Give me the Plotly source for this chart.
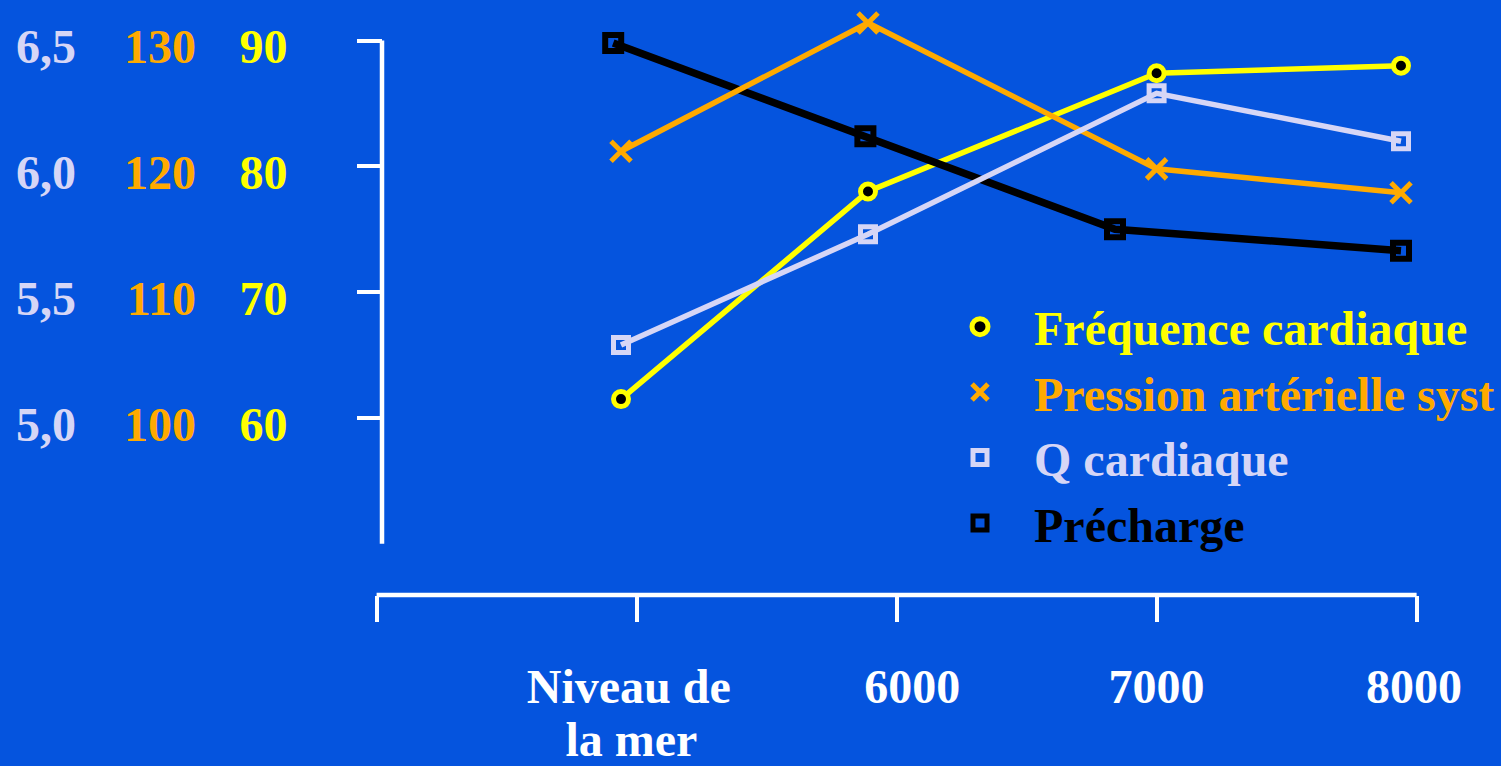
import plotly.graph_objects as go

# Altitude stations (category positions along the x axis)
station_ticks = [-1, 0, 1, 2, 3]
station_labels = ["Niveau de", "6000", "7000", "8000"]
station_label_pos = [-0.03, 1.06, 2.0, 2.99]
station_label_line2 = ["la mer"]
station_label_line2_pos = [-0.02]

# Where each series was plotted along the altitude axis
x_fc = [-0.06, 0.89, 2.0, 2.94]
x_pas = [-0.06, 0.89, 2.0, 2.94]
x_q = [-0.06, 0.89, 2.0, 2.94]
x_pre = [-0.09, 0.88, 1.84, 2.94]

# Series values
freq_cardiaque = [61.5, 78.0, 87.4, 88.0]          # battements/min
pression_syst = [121.2, 131.4, 119.8, 117.9]       # mmHg
q_cardiaque = [5.29, 5.73, 6.29, 6.10]             # L/min
precharge = [89.8, 82.4, 75.0, 73.3]               # unités relatives

# Tick values / labels of the three scales
fc_ticks = [60, 70, 80, 90]
pas_ticks = [100, 110, 120, 130]
q_ticks = [5.0, 5.5, 6.0, 6.5]
q_ticktext = ["5,0", "5,5", "6,0", "6,5"]

W, H = 1501, 766
BG = "#0554DE"
WHITE = "#FFFFFF"
YELLOW = "#FFFF00"
ORANGE = "#FFAA00"
LAVENDER = "#D6D6F6"
BLACK = "#000000"
SERIF = "Liberation Serif, Times New Roman, serif"

# Pixel geometry of the axes frame
yaxis_px = 382
xaxis_py = 595


def px_to_idx(px):
    return 1 + (px - 896.6) / 260.0


# Linear mapping between the scales (heart-rate scale as reference)
fc_lo, fc_hi = 75 - (H - 229.25) / 12.582, 75 + 229.25 / 12.582
pas_range = [fc_lo + 40, fc_hi + 40]
q_range = [5.0 + (fc_lo - 60) * 0.05, 5.0 + (fc_hi - 60) * 0.05]
x_range = [px_to_idx(0), px_to_idx(W)]

fig = go.Figure()

fig.add_trace(go.Scatter(
    x=x_q, y=q_cardiaque, yaxis="y3", mode="lines+markers",
    line=dict(color=LAVENDER, width=5.5),
    marker=dict(symbol="square-open", size=15, color=LAVENDER, line=dict(width=5, color=LAVENDER)),
    showlegend=False, cliponaxis=False))
fig.add_trace(go.Scatter(
    x=x_pas, y=pression_syst, yaxis="y2", mode="lines+markers",
    line=dict(color=ORANGE, width=5.5),
    marker=dict(symbol="x-thin-open", size=20, color=ORANGE, line=dict(width=5, color=ORANGE)),
    showlegend=False, cliponaxis=False))
fig.add_trace(go.Scatter(
    x=x_fc, y=freq_cardiaque, yaxis="y", mode="lines+markers",
    line=dict(color=YELLOW, width=5.5),
    marker=dict(symbol="circle", size=15, color=BLACK, line=dict(width=5, color=YELLOW)),
    showlegend=False, cliponaxis=False))
fig.add_trace(go.Scatter(
    x=x_pre, y=precharge, yaxis="y", mode="lines+markers",
    line=dict(color=BLACK, width=7.5),
    marker=dict(symbol="square-open", size=16, color=BLACK, line=dict(width=6, color=BLACK)),
    showlegend=False, cliponaxis=False))

# Legend entries (marker only); they live on the label axis so it gets drawn
legend_items = [
    ("Fréquence cardiaque", YELLOW, dict(symbol="circle", size=16, color=BLACK, line=dict(width=5, color=YELLOW))),
    ("Pression artérielle syst", ORANGE, dict(symbol="x-thin-open", size=16, color=ORANGE, line=dict(width=5, color=ORANGE))),
    ("Q cardiaque", LAVENDER, dict(symbol="square-open", size=14, color=LAVENDER, line=dict(width=5, color=LAVENDER))),
    ("Précharge", BLACK, dict(symbol="square-open", size=14, color=BLACK, line=dict(width=5, color=BLACK))),
]
for i, (name, col, mk) in enumerate(legend_items):
    fig.add_trace(go.Scatter(
        x=[None], y=[None], xaxis="x2", mode="markers", marker=mk,
        name=f'<span style="color:{col}"><b>{name}</b></span>',
        legendgroup=f"g{i}", showlegend=True))

# empty trace so the second label row axis is drawn
fig.add_trace(go.Scatter(x=[None], y=[None], xaxis="x3", mode="markers",
                         showlegend=False, hoverinfo="skip"))


def tick_font(c):
    return dict(family=SERIF, size=48, color=c, weight="bold")


label_axis = dict(
    overlaying="x", range=x_range, automargin=False,
    anchor="free", position=1 - xaxis_py / H,
    showgrid=False, zeroline=False, showline=False,
    tickmode="array", ticks="", tickfont=tick_font(WHITE),
)

fig.update_layout(
    width=W, height=H,
    margin=dict(l=0, r=0, t=0, b=0, autoexpand=False),
    paper_bgcolor=BG, plot_bgcolor=BG,
    showlegend=True,
    legend=dict(x=926 / W, y=1 - 289 / H, xanchor="left", yanchor="top",
                bgcolor="rgba(0,0,0,0)", font=dict(family=SERIF, size=48),
                tracegroupgap=0, itemwidth=98),
    # tick marks of the altitude axis
    xaxis=dict(
        domain=[0, 1], range=x_range, automargin=False,
        anchor="free", position=1 - xaxis_py / H,
        showgrid=False, zeroline=False, showline=False,
        tickmode="array", tickvals=station_ticks, showticklabels=False,
        ticks="outside", ticklen=26, tickwidth=4, tickcolor=WHITE,
    ),
    # station names of the altitude axis (two rows)
    xaxis2=dict(label_axis, tickvals=station_label_pos, ticktext=station_labels,
                ticklabelstandoff=59),
    xaxis3=dict(label_axis, tickvals=station_label_line2_pos, ticktext=station_label_line2,
                ticklabelstandoff=112),
    yaxis=dict(
        domain=[0, 1], range=[fc_lo, fc_hi], automargin=False,
        anchor="free", position=yaxis_px / W,
        showgrid=False, zeroline=False, showline=False,
        tickmode="array", tickvals=fc_ticks,
        ticks="outside", ticklen=25, tickwidth=4, tickcolor=WHITE,
        tickfont=tick_font(YELLOW), ticklabelstandoff=60, ticklabelshift=6,
    ),
    yaxis2=dict(
        overlaying="y", range=pas_range, automargin=False,
        anchor="free", position=196 / W,
        showgrid=False, zeroline=False, showline=False,
        tickmode="array", tickvals=pas_ticks, ticks="",
        tickfont=tick_font(ORANGE), ticklabelshift=6,
    ),
    yaxis3=dict(
        overlaying="y", range=q_range, automargin=False,
        anchor="free", position=76 / W,
        showgrid=False, zeroline=False, showline=False,
        tickmode="array", tickvals=q_ticks, ticktext=q_ticktext, ticks="",
        tickfont=tick_font(LAVENDER), ticklabelshift=6,
    ),
)

# Axis frame lines (bracket style)
fig.add_shape(type="line", xref="paper", yref="y",
              x0=yaxis_px / W, x1=yaxis_px / W, y0=50, y1=fc_ticks[-1],
              line=dict(color=WHITE, width=4.5), layer="below")
fig.add_shape(type="line", xref="x", yref="paper",
              x0=station_ticks[0], x1=station_ticks[-1],
              y0=1 - xaxis_py / H, y1=1 - xaxis_py / H,
              line=dict(color=WHITE, width=4.5), layer="below")

fig.write_html("out.html")
